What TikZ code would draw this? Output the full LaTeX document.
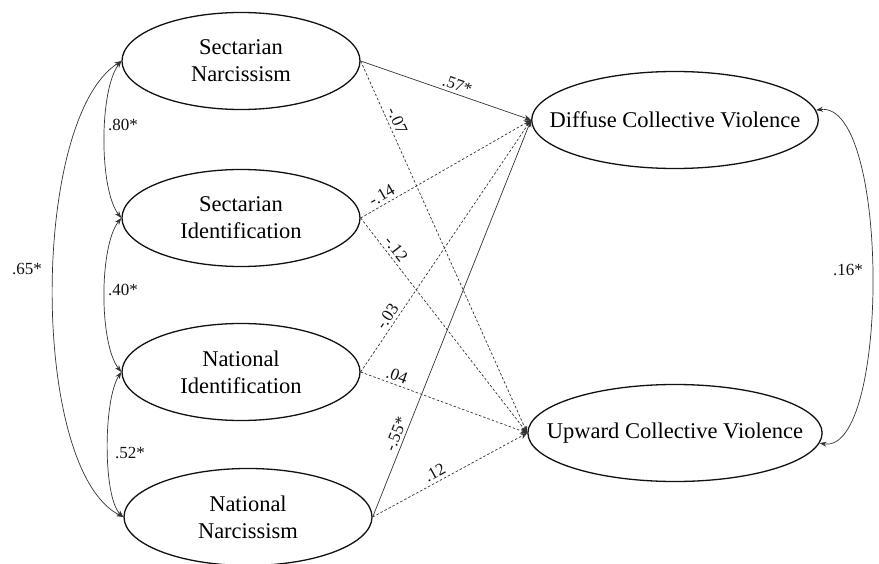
\documentclass[tikz,border=0pt]{standalone}
\usepackage{fontspec}
\setmainfont{Liberation Serif}
\usepackage{xcolor}
\usepackage{tikz}
\usetikzlibrary{shapes.geometric,arrows.meta}
\definecolor{ink}{HTML}{111111}
\definecolor{wire}{HTML}{333333}
\tikzset{
  latent/.style={draw=ink, ellipse, line width=1.3pt, inner sep=0pt, align=center,
    minimum height=97pt, font=\fontsize{22.5}{27}\selectfont},
  wide/.style={latent, minimum width=286pt, inner xsep=-24pt},
  effect/.style={draw=wire, line width=0.7pt, -{Stealth[length=7pt,width=6pt]}},
  nseffect/.style={effect, dash pattern=on 2.5pt off 2pt},
  covar/.style={draw=wire, line width=0.7pt, {Stealth[length=7pt,width=5pt]}-{Stealth[length=7pt,width=5pt]}},
  coef/.style={text=ink, font=\fontsize{17}{17}\selectfont, inner sep=3pt},
}
\begin{document}
\begin{tikzpicture}[x=1pt, y=-1pt]
  \useasboundingbox (0,0) rectangle (879,564);

  % predictors
  \node[latent, minimum width=238pt] (sn) at (241,61) {Sectarian\\Narcissism};
  \node[latent, minimum width=238pt] (si) at (241,218) {Sectarian\\Identification};
  \node[latent, minimum width=238pt] (ni) at (241,372) {National\\Identification};
  \node[latent, minimum width=248pt] (nn) at (248,517) {National\\Narcissism};

  % outcomes
  \node[wide] (dcv) at (675,120) {Diffuse Collective Violence};
  \node[wide] (ucv) at (675,433) {Upward Collective Violence};

  % paths
  \draw[effect] (sn.east) -- node[coef, pos=0.55, sloped, above] {.57*} (dcv.west);
  \draw[nseffect] (sn.east) -- node[coef, pos=0.17, sloped, above] {-.07} (ucv.west);
  \draw[nseffect] (si.east) -- node[coef, pos=0.15, sloped, above] {-.14} (dcv.west);
  \draw[nseffect] (si.east) -- node[coef, pos=0.17, sloped, above] {-.12} (ucv.west);
  \draw[nseffect] (ni.east) -- node[coef, pos=0.2, sloped, above] {-.03} (dcv.west);
  \draw[nseffect] (ni.east) -- node[coef, pos=0.2, sloped, above] {.04} (ucv.west);
  \draw[effect] (nn.east) -- node[coef, pos=0.2, sloped, above] {-.55*} (dcv.west);
  \draw[nseffect] (nn.east) -- node[coef, pos=0.43, sloped, above] {.12} (ucv.west);

  % correlations
  \draw[covar] (sn.west) .. controls (99,90) and (99,190) .. (si.west);
  \draw[covar] (si.west) .. controls (99,246) and (99,344) .. (ni.west);
  \draw[covar] (ni.west) .. controls (103,400) and (103,498) .. (nn.west);
  \draw[covar] (sn.west) .. controls (30,120) and (30,470) .. (nn.west);
  \draw[covar] (dcv.4) .. controls (890,100) and (890,455) .. (ucv.-4);

  \node[coef] (r1) at (123,125) {.80*};
  \node[coef] (r2) at (123,290) {.40*};
  \node[coef] (r3) at (130,453) {.52*};
  \node[coef] (r4) at (27,269) {.65*};
  \node[coef] (r5) at (848,270) {.16*};
\end{tikzpicture}
\end{document}
